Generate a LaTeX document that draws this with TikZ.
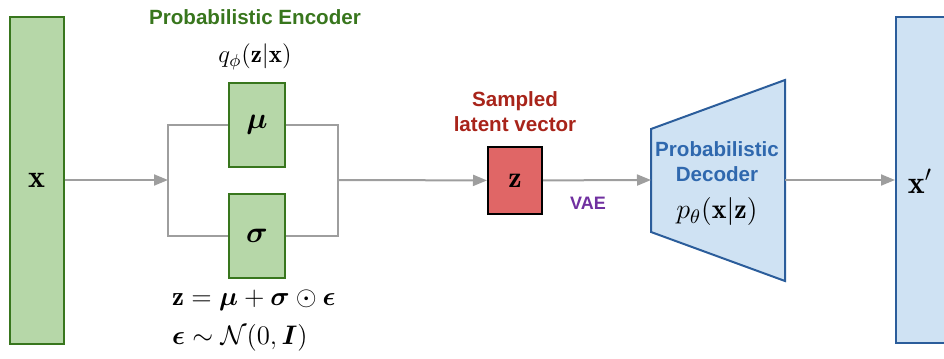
\documentclass[tikz,border=0pt]{standalone}
\usepackage{fix-cm}
\usepackage{amsmath}
\usepackage{fontspec}
\setsansfont{Liberation Sans}
\usetikzlibrary{arrows.meta, positioning, calc}
\definecolor{cgreenline}{HTML}{38761D}
\definecolor{cgreenfill}{HTML}{B6D7A8}
\definecolor{credfill}{HTML}{E06666}
\definecolor{credtext}{HTML}{A8241A}
\definecolor{cblueline}{HTML}{2B5D9B}
\definecolor{cbluefill}{HTML}{CFE2F3}
\definecolor{cbluetext}{HTML}{2F68AE}
\definecolor{cpurple}{HTML}{7030A0}
\definecolor{cgrey}{HTML}{9E9E9E}
\tikzset{
  every picture/.style={line width=1pt},
  box/.style 2 args={draw=#1, fill=#2, line width=1pt, inner sep=0pt},
  link/.style={draw=cgrey, line width=1pt},
  arrow/.style={link, -{Triangle[length=7pt, width=5.5pt]}},
  title/.style={font=\sffamily\bfseries\fontsize{10.3}{12.5}\selectfont, text=#1, align=center, inner sep=0pt},
  eqn/.style={font=\fontsize{13.4}{16}\selectfont, inner sep=0pt},
}

\begin{document}
\begin{tikzpicture}[x=0.5pt, y=-0.5pt]
  \useasboundingbox (0,0) rectangle (944,359);
  % input
  \node[box={cgreenline}{cgreenfill}, minimum width=27pt, minimum height=163.5pt] (x) at (36.5,180) {\fontsize{16}{18}\selectfont$\mathbf{x}$};
  % encoder
  \node[title=cgreenline] (enctitle) at (255,17) {Probabilistic Encoder};
  \node[eqn, font=\fontsize{12.5}{15}\selectfont] (q) at (255,57) {$q_\phi(\mathbf{z}|\mathbf{x})$};
  \foreach \n/\t/\y in {mu/\mu/124.5, sigma/\sigma/236} {
    \node[box={cgreenline}{cgreenfill}, minimum width=28pt, minimum height=42pt] (\n) at (257,\y) {\fontsize{15}{18}\selectfont$\boldsymbol{\t}$};
  }
  \coordinate (encin) at (168,180);
  \coordinate (encout) at (338,180);
  \draw[link] (mu.west) -| (encin) |- (sigma.west);
  \draw[link] (mu.east) -| (encout) |- (sigma.east);
  \node[eqn, anchor=west] (eq1) at (171,300) {$\mathbf{z}=\boldsymbol{\mu}+\boldsymbol{\sigma}\odot\boldsymbol{\epsilon}$};
  \node[eqn, anchor=west] (eq2) at (171,338) {$\boldsymbol{\epsilon}\sim\mathcal{N}(0,\boldsymbol{I})$};
  % latent
  \node[box={black}{credfill}, minimum width=27pt, minimum height=33.5pt] (z) at (515,180.5) {\fontsize{15}{18}\selectfont$\mathbf{z}$};
  \node[title=credtext] (ztitle) at (515,112) {Sampled\\latent vector};
  \node[font=\sffamily\bfseries\fontsize{9}{11}\selectfont, text=cpurple, inner sep=0pt] (vae) at (588,203) {VAE};
  % decoder
  \draw[draw=cblueline, fill=cbluefill, line width=1pt] (651,129) -- (785,80) -- (785,281) -- (651,232) -- cycle;
  \coordinate (decin) at (651,180);
  \coordinate (decout) at (785,180);
  \node[title=cbluetext] (dec) at (717,184) {Probabilistic\\Decoder\\[6pt]{\normalfont\color{black}\fontsize{14}{16}\selectfont$p_\theta(\mathbf{x}|\mathbf{z})$}};
  % output
  \node[box={cblueline}{cbluefill}, minimum width=40pt, minimum height=163pt, anchor=west] (xp) at (895,180) {};
  \node[inner sep=0pt] (xplbl) at (920,181) {\fontsize{16}{18}\selectfont$\mathbf{x}'$};
  \draw[arrow] (x) -- (encin);
  \draw[arrow] (encout) -- (z);
  \draw[arrow] (z) -- (decin);
  \draw[arrow] (decout) -- (xp);
\end{tikzpicture}
\end{document}
